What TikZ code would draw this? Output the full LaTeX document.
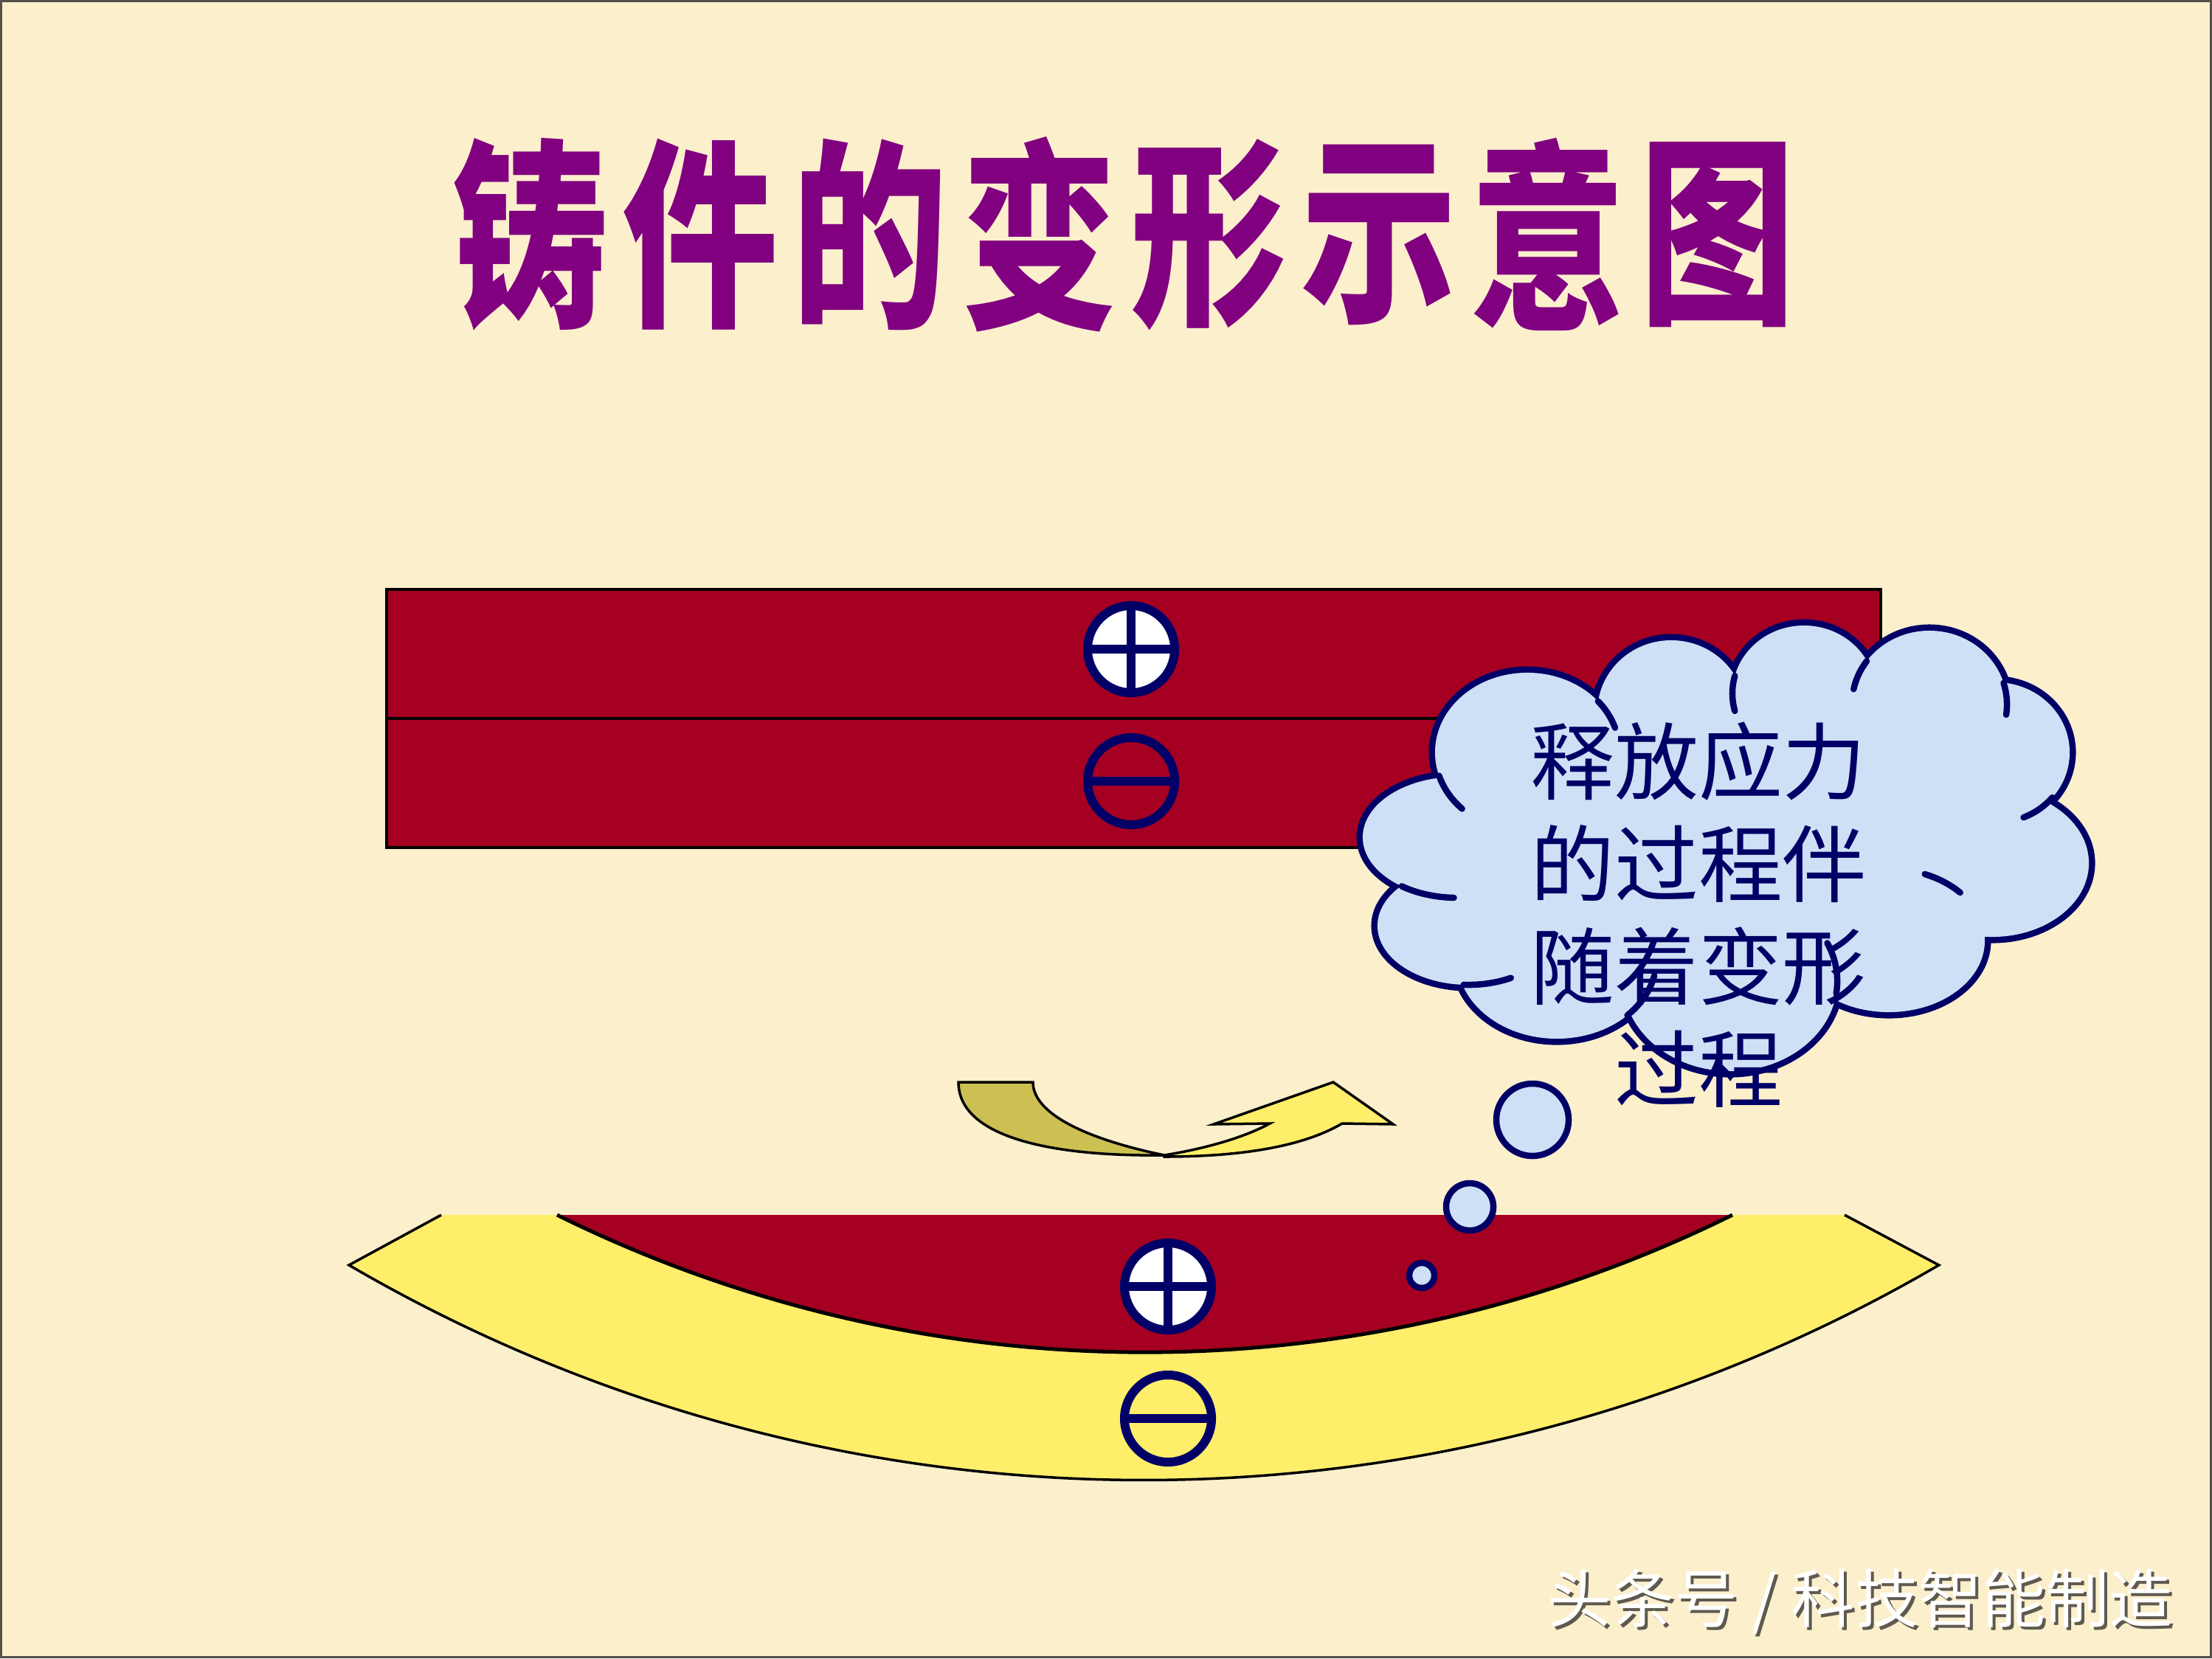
\documentclass[tikz,border=0pt]{standalone}
\usepackage{fontspec}
\newfontfamily\cjk{Noto Sans CJK SC}
\definecolor{paper}{RGB}{252,239,204}
\definecolor{frame}{RGB}{85,80,75}
\definecolor{castred}{RGB}{165,0,33}
\definecolor{bandyellow}{RGB}{255,238,106}
\definecolor{arrowdark}{RGB}{204,192,82}
\definecolor{signnavy}{RGB}{0,0,102}
\definecolor{cloudblue}{RGB}{206,224,245}
\definecolor{titlepurple}{RGB}{128,0,128}
\definecolor{markshade}{RGB}{95,90,80}

\begin{document}
\begin{tikzpicture}[x=0.01cm,y=-0.01cm,
    sign/.style={circle,draw=signnavy,line width=0.12cm,inner sep=0pt,
        outer sep=0pt,minimum size=1.18cm},
    signbar/.style={draw=signnavy,line width=0.12cm},
    edge/.style={draw=black,line width=0.035cm,line join=miter},
    cloudrim/.style={draw=signnavy,line width=0.17cm},
    crease/.style={draw=signnavy,line width=0.085cm,line cap=round},
    bubble/.style={circle,draw=signnavy,fill=cloudblue,line width=0.085cm,
        inner sep=0pt},
    titlech/.style={font=\cjk\bfseries\fontsize{60}{60}\selectfont,
        text=titlepurple,yscale=1.3,inner sep=0pt},
    cloudtext/.style={font=\cjk\fontsize{32.4}{39.5}\selectfont,
        text=signnavy,align=center,inner sep=0pt},
    marktext/.style={font=\cjk\fontsize{24.5}{24.5}\selectfont,inner sep=0pt}]
\coordinate (c1) at (0,0);
\coordinate (c2) at (2998,2248);
\coordinate (r1) at (524,799);
\coordinate (r2) at (2549,1149);
\coordinate (rm1) at (524,974);
\coordinate (rm2) at (2549,974);
\coordinate (bandTL) at (598,1647);
\coordinate (bandL) at (473,1715);
\coordinate (bandTR) at (2500,1647);
\coordinate (redL) at (755,1647);
\coordinate (tailA) at (1299,1467);
\coordinate (tailB) at (1400,1467);
\coordinate (bend) at (1578,1566);
\coordinate (bendlow) at (1578,1568);
\coordinate (barb) at (1721,1523);
\coordinate (notch) at (1645,1524);
\coordinate (headtop) at (1807,1467);
\coordinate (tip) at (1888,1524);
\coordinate (headbase) at (1819,1523);
\useasboundingbox (c1) rectangle (c2);
\fill [paper] (c1) rectangle (c2);
\draw [frame,line width=0.03cm] (1.5,1.5) rectangle (2996.5,2246.5);

\foreach \ch [count=\i from 0] in {铸,件,的,变,形,示,意,图}
    \node [titlech] (t\i) at ({719+229.9*\i},318) {\ch};

\fill [castred] (r1) rectangle (r2);
\draw [edge,line width=0.04cm] (r1) rectangle (r2);
\draw [edge,line width=0.04cm] (rm1) -- (rm2);
\node [sign,fill=white] (plusTop) at (1533,880) {};
\draw [signbar] (plusTop.west) -- (plusTop.east)
    (plusTop.north) -- (plusTop.south);
\node [sign] (minusTop) at (1533,1059) {};
\draw [signbar] (minusTop.west) -- (minusTop.east);

\filldraw [arrowdark,edge] (tailA) -- (tailB)
    .. controls (1400,1515) and (1490,1548) .. (bend)
    .. controls (1420,1568) and (1299,1540) .. (tailA) -- cycle;
\filldraw [bandyellow,edge] (bend)
    .. controls (1640,1556) and (1690,1540) .. (barb)
    -- (notch) -- (headtop) -- (tip) -- (headbase)
    .. controls (1770,1552) and (1690,1568) .. (bendlow) -- cycle;

\fill [bandyellow] (bandTL) -- (bandL)
    arc[start angle=239.72,end angle=300.28,radius=21.355cm]
    -- (bandTR) -- cycle;
\draw [edge] (bandTL) -- (bandL)
    arc[start angle=239.72,end angle=300.28,radius=21.355cm]
    -- (bandTR);
\fill [castred] (redL)
    arc[start angle=243.69,end angle=296.31,radius=17.96cm] -- cycle;
\draw [edge,line width=0.05cm] (redL)
    arc[start angle=243.69,end angle=296.31,radius=17.96cm];
\node [sign,fill=white] (plusBot) at (1583,1744) {};
\draw [signbar] (plusBot.west) -- (plusBot.east)
    (plusBot.north) -- (plusBot.south);
\node [sign] (minusBot) at (1583,1923) {};
\draw [signbar] (minusBot.west) -- (minusBot.east);

\foreach \cx/\cy/\rx/\ry in {2070/1020/1.25/1.08,2265/965/1.00/0.97,
    2445/940/0.97/0.92,2615/955/1.05/1.00,2705/1020/1.00/0.95,
    2700/1170/1.31/1.00,2560/1275/1.30/0.97,2345/1330/1.45/1.22,
    2110/1300/1.35/1.08,1990/1255/1.23/0.80,1975/1135/1.28/0.82}
    \draw [cloudrim] (\cx,\cy) ellipse[x radius=\rx cm,y radius=\ry cm];
\foreach \cx/\cy/\rx/\ry in {2070/1020/1.25/1.08,2265/965/1.00/0.97,
    2445/940/0.97/0.92,2615/955/1.05/1.00,2705/1020/1.00/0.95,
    2700/1170/1.31/1.00,2560/1275/1.30/0.97,2345/1330/1.45/1.22,
    2110/1300/1.35/1.08,1990/1255/1.23/0.80,1975/1135/1.28/0.82,
    2330/1130/3.30/2.00}
    \fill [cloudblue] (\cx,\cy) ellipse[x radius=\rx cm,y radius=\ry cm];
\foreach \cx/\cy/\rx/\ry/\a/\b in {2070/1020/1.25/1.08/197/225,
    2070/1020/1.25/1.08/40/18,2445/940/0.97/0.92/165/195,
    2615/955/1.05/1.00/144/168,2615/955/1.05/1.00/17/-8,
    2705/1020/1.00/0.95/-40/-68,2560/1275/1.30/0.97/42/68,
    2345/1330/1.45/1.22/-8/25,2110/1300/1.35/1.08/-45/-12,
    1990/1255/1.23/0.80/-93/-62,1975/1135/1.28/0.82/-126/-92}
    \draw [crease] (\cx,\cy) ++(\a:\rx cm and \ry cm)
        arc[start angle=\a,end angle=\b,x radius=\rx cm,y radius=\ry cm];
\node [bubble,minimum size=0.98cm] (bub1) at (2077,1518) {};
\node [bubble,minimum size=0.64cm] (bub2) at (1992,1636) {};
\node [bubble,minimum size=0.34cm] (bub3) at (1927,1729) {};
\node [cloudtext] (relief) at (2302,1240)
    {释放应力\\的过程伴\\随着变形\\过程};

\node [marktext,text=markshade] (markshadow) at (2525,2175)
    {头条号 / 科技智能制造};
\node [marktext,text=white] (mark) at (2521,2171)
    {头条号 / 科技智能制造};
\end{tikzpicture}
\end{document}
